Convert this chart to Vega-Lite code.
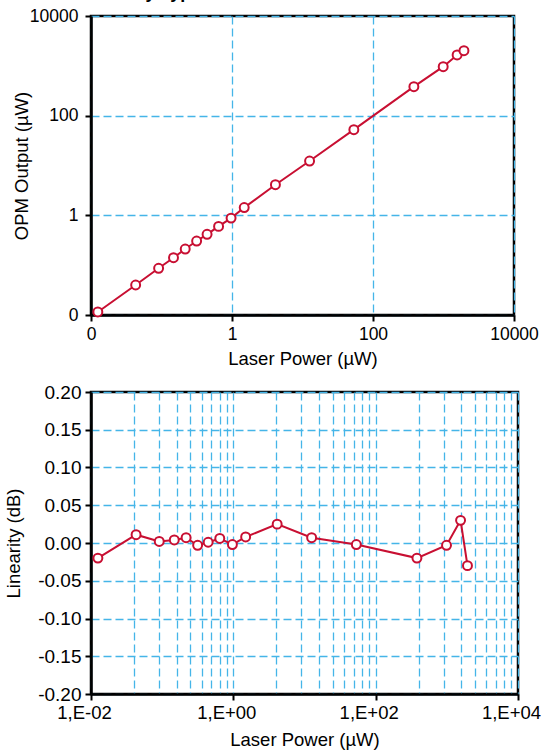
{
  "$schema": "https://vega.github.io/schema/vega-lite/v6.json",
  "padding": {"left": 3, "top": -17, "right": 0, "bottom": 0},
  "bounds": "flush",
  "spacing": 77,
  "title": {"text": "Linearity Typical Performance Curve", "anchor": "start", "dx": 77, "offset": 4, "font": "Liberation Sans", "fontSize": 18, "fontWeight": "bold", "color": "black"},
  "config": {
    "font": "Liberation Sans",
    "view": {"stroke": "black", "strokeWidth": 2.5},
    "axis": {
      "labelFont": "Liberation Sans", "titleFont": "Liberation Sans",
      "labelFontSize": 17.5, "titleFontSize": 18.5, "titleFontWeight": "normal",
      "labelColor": "black", "titleColor": "black",
      "domainColor": "black", "domainWidth": 2.5,
      "tickColor": "black", "tickWidth": 2, "tickSize": 6,
      "gridColor": "#45B5E8", "gridDash": [8, 4], "gridWidth": 1.3, "gridOpacity": 1,
      "labelPadding": 3, "titlePadding": 4, "labelFlush": false, "labelOverlap": false
    }
  },
  "datasets": {
    "meas": [
      {"laser": 0.0125, "opm": 0.0115, "lin": -0.020},
      {"laser": 0.043, "opm": 0.040, "lin": 0.011},
      {"laser": 0.091, "opm": 0.0865, "lin": 0.002},
      {"laser": 0.148, "opm": 0.141, "lin": 0.004},
      {"laser": 0.217, "opm": 0.211, "lin": 0.007},
      {"laser": 0.315, "opm": 0.305, "lin": -0.003},
      {"laser": 0.443, "opm": 0.416, "lin": 0.001},
      {"laser": 0.645, "opm": 0.60, "lin": 0.006},
      {"laser": 0.97, "opm": 0.88, "lin": -0.002},
      {"laser": 1.49, "opm": 1.43, "lin": 0.008},
      {"laser": 4.13, "opm": 4.12, "lin": 0.025},
      {"laser": 12.6, "opm": 12.3, "lin": 0.007},
      {"laser": 53.5, "opm": 52.4, "lin": -0.002},
      {"laser": 380, "opm": 382, "lin": -0.020},
      {"laser": 990, "opm": 962, "lin": -0.003},
      {"laser": 1560, "opm": 1652, "lin": 0.030},
      {"laser": 1950, "opm": 2014, "lin": -0.030}
    ]
  },
  "vconcat": [
    {
      "width": 423, "height": 299,
      "data": {"name": "meas"},
      "encoding": {
        "x": {"field": "laser", "type": "quantitative",
              "scale": {"type": "log", "domain": [0.01, 10000]},
              "axis": {"values": [0.01, 1, 100, 10000], "format": ".0f", "title": "Laser Power (µW)", "grid": true, "labelPadding": 4.5, "titlePadding": 6}},
        "y": {"field": "opm", "type": "quantitative",
              "scale": {"type": "log", "domain": [0.01, 10000]},
              "axis": {"values": [0.01, 1, 100, 10000], "format": ".0f", "title": "OPM Output (µW)", "grid": true, "labelPadding": 7, "titlePadding": -2}}
      },
      "layer": [
        {"mark": {"type": "line", "color": "#C80F32", "strokeWidth": 2}},
        {"mark": {"type": "point", "shape": "circle", "filled": true, "fill": "white", "stroke": "#C80F32", "strokeWidth": 2, "size": 80, "opacity": 1}}
      ]
    },
    {
      "width": 427, "height": 302,
      "data": {"name": "meas"},
      "encoding": {
        "x": {"field": "laser", "type": "quantitative",
              "scale": {"type": "log", "domain": [0.01, 10000]},
              "axis": {
                "values": [0.01, 0.04, 0.09, 0.16, 0.25, 0.36, 0.49, 0.64, 0.81, 1, 4, 9, 16, 25, 36, 49, 64, 81, 100, 400, 900, 1600, 2500, 3600, 4900, 6400, 8100, 10000],
                "labelExpr": "datum.value == 0.01 ? '1,E-02' : datum.value == 1 ? '1,E+00' : datum.value == 100 ? '1,E+02' : datum.value == 10000 ? '1,E+04' : ''",
                "tickOpacity": {"condition": {"test": "indexof([0.01, 1, 100, 10000], datum.value) >= 0", "value": 1}, "value": 0},
                "labelFontSize": 18.5, "labelOffset": -7,
                "title": "Laser Power (µW)", "grid": true, "labelPadding": 3, "titlePadding": 9}},
        "y": {"field": "lin", "type": "quantitative",
              "scale": {"domain": [-0.2, 0.2]},
              "axis": {"values": [-0.2, -0.15, -0.1, -0.05, 0, 0.05, 0.1, 0.15, 0.2],
                       "labelExpr": "replace(format(datum.value, '.2f'), '\u2212', '-')",
                       "labelFontSize": 19,
                       "title": "Linearity (dB)", "grid": true, "labelPadding": 4, "titlePadding": 14}}
      },
      "layer": [
        {"mark": {"type": "line", "color": "#C80F32", "strokeWidth": 2}},
        {"mark": {"type": "point", "shape": "circle", "filled": true, "fill": "white", "stroke": "#C80F32", "strokeWidth": 2, "size": 80, "opacity": 1}}
      ]
    }
  ]
}
